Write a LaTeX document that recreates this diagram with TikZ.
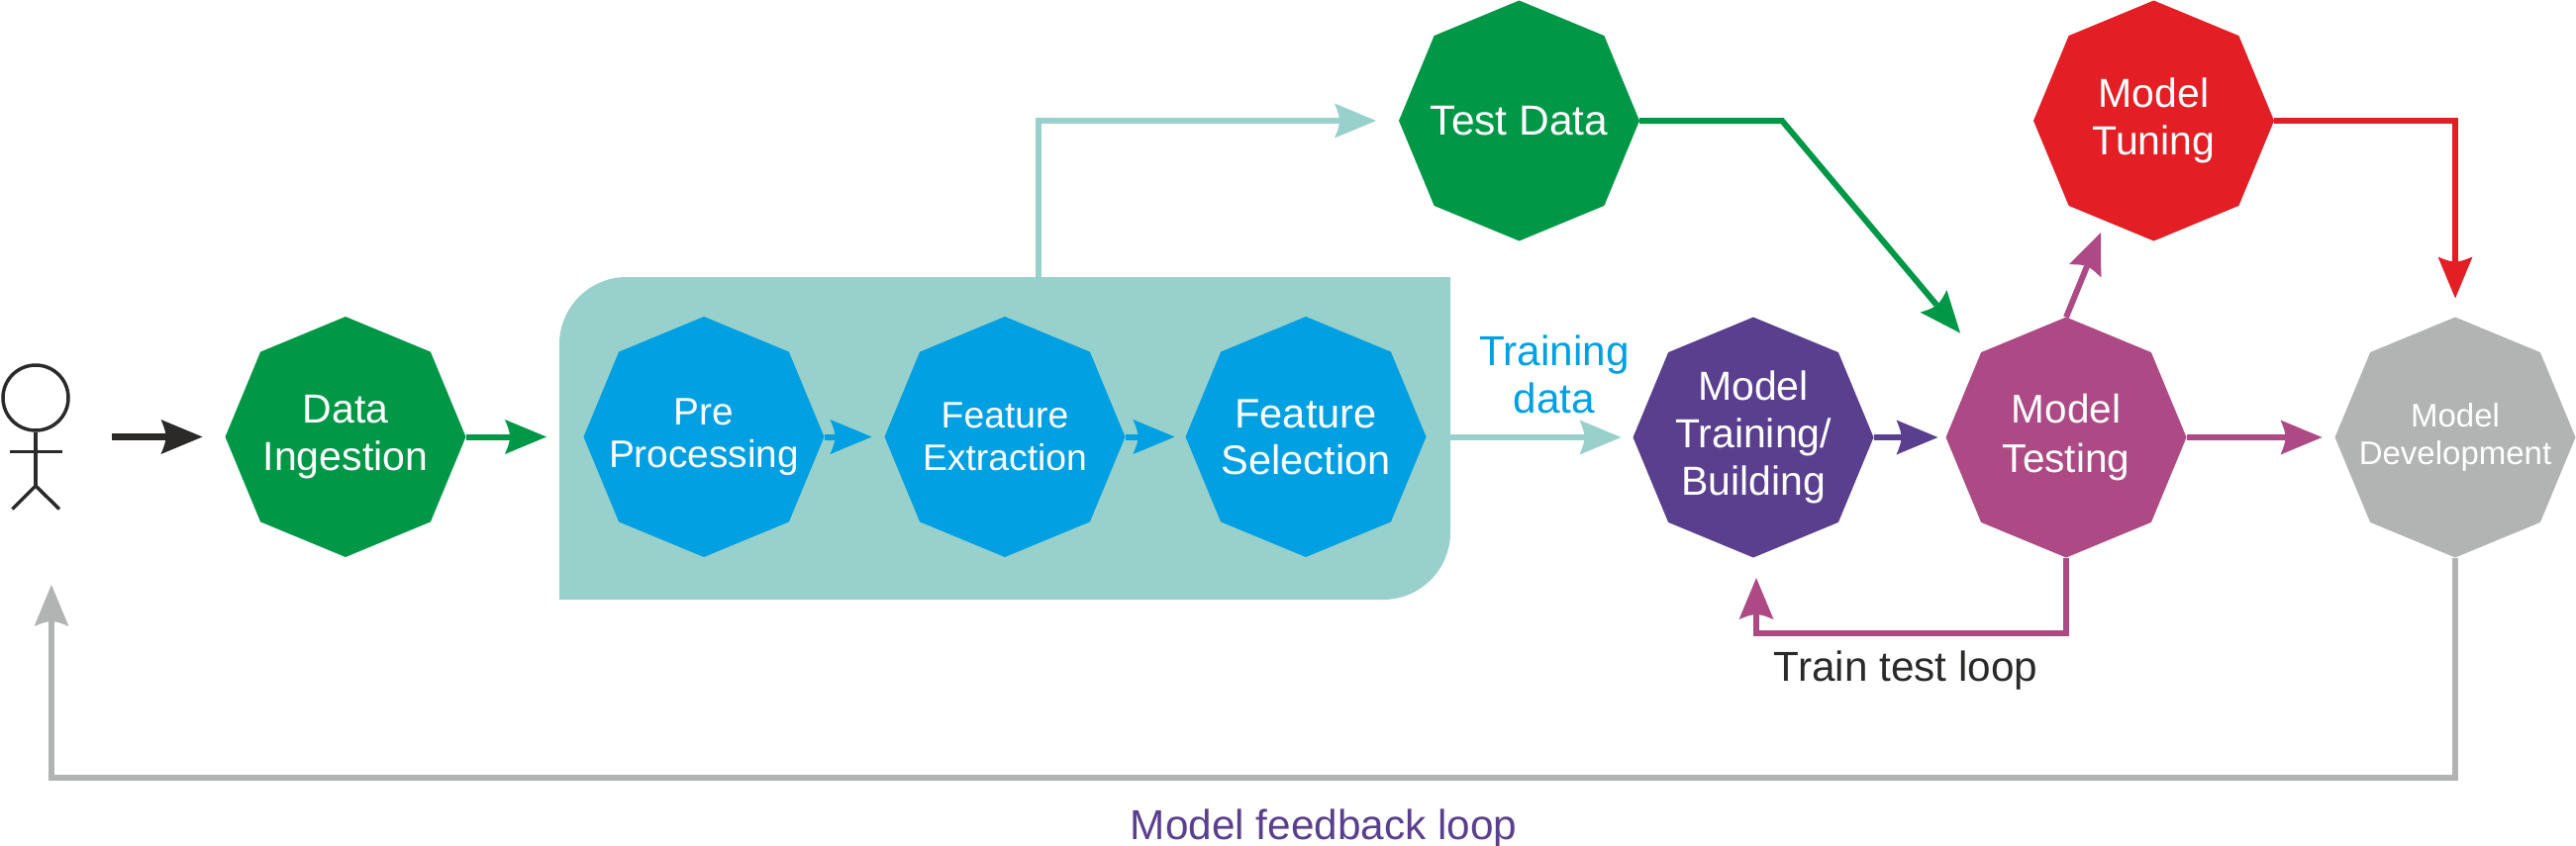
\documentclass[tikz,border=0pt]{standalone}
\usepackage{fontspec}
\setmainfont{Liberation Sans}
\usetikzlibrary{arrows.meta,calc}
\definecolor{cgreen}{HTML}{009846}
\definecolor{cblue}{HTML}{00A0E3}
\definecolor{cteal}{HTML}{98D0CB}
\definecolor{cpurple}{HTML}{5B3F8F}
\definecolor{cmag}{HTML}{AD4A85}
\definecolor{cred}{HTML}{E31E24}
\definecolor{cgray}{HTML}{B2B3B3}
\definecolor{cdark}{HTML}{2B2A29}
\pgfdeclarearrow{
  name=Hd,
  setup code={
    \pgfarrowssettipend{0pt}
    \pgfarrowssetbackend{-42pt}
    \pgfarrowssetlineend{-37pt}
    \pgfarrowshullpoint{0pt}{0pt}
    \pgfarrowshullpoint{-42pt}{17.5pt}
    \pgfarrowshullpoint{-42pt}{-17.5pt}
  },
  drawing code={
    \pgfpathmoveto{\pgfqpoint{0pt}{0pt}}
    \pgfpathlineto{\pgfqpoint{-42pt}{17.5pt}}
    \pgfpathcurveto{\pgfqpoint{-38pt}{8pt}}{\pgfqpoint{-37pt}{4pt}}{\pgfqpoint{-37pt}{0pt}}
    \pgfpathcurveto{\pgfqpoint{-37pt}{-4pt}}{\pgfqpoint{-38pt}{-8pt}}{\pgfqpoint{-42pt}{-17.5pt}}
    \pgfpathclose
    \pgfusepathqfill
  }
}
\newcommand{\fs}[2]{\fontsize{#1}{#2}\selectfont}
% octagon: colour, position, name, font, text
\newcommand{\octa}[5]{%
  \fill[#1] (#2) ++(121.5,0) -- ++(-35.6,85.9) -- ++(-85.9,35.6) -- ++(-85.9,-35.6) -- ++(-35.6,-85.9)
     -- ++(35.6,-85.9) -- ++(85.9,-35.6) -- ++(85.9,35.6) -- cycle;
  \node[oct,font=#4] (#3) at (#2) {#5};}
\tikzset{
  oct/.style={circle,minimum size=243pt,inner sep=0pt,outer sep=0pt,text=white,align=center},
  conn/.style={line width=6pt,-Hd},
  lbl/.style={inner sep=0pt,align=center,font=\fs{42.3}{48}},
  limb/.style={cdark,line width=3.5pt}
}
\begin{document}
\begin{tikzpicture}[x=1pt,y=-1pt]
\useasboundingbox (0,0) rectangle (2602,854);
% group panel
\node[minimum width=900pt,minimum height=326pt,inner sep=0pt,outer sep=0pt] (group) at (1015,443) {};
\fill[cteal] (group.south west) [rounded corners=68pt] -- (group.north west) [sharp corners] -- (group.north east) [rounded corners=68pt] -- (group.south east) [sharp corners] -- cycle;
% octagons
\octa{cgreen}{349,441.5}{ingest}{\fs{41}{48.6}}{Data\\Ingestion}
\octa{cblue}{711,441.5}{pre}{\fs{38.8}{43.5}}{Pre\\Processing}
\octa{cblue}{1015,441.5}{extract}{\fs{37.3}{43.6}}{Feature\\Extraction}
\octa{cblue}{1319,441.5}{select}{\fs{41.6}{47}}{Feature\\Selection}
\octa{cgreen}{1534.5,122}{test}{\fs{42.5}{50}}{Test Data}
\octa{cpurple}{1771,442}{train}{\fs{41}{48}}{Model\\Training/\\Building}
\octa{cmag}{2087,442}{testing}{\fs{40.5}{49.5}}{Model\\Testing}
\octa{cred}{2175.5,122}{tuning}{\fs{41}{48}}{Model\\Tuning}
\octa{cgray}{2480,442}{dev}{\fs{33}{38}\color{white!92!cgray}}{Model\\Development}
% actor
\node[circle,draw=cdark,line width=3.5pt,minimum size=66pt,inner sep=0pt] (head) at (36,402) {};
\coordinate (hip) at (36,491);
\coordinate (armL) at (10,456.5);
\coordinate (armR) at (63,456.5);
\coordinate (footL) at (12.5,514.5);
\coordinate (footR) at (60,514.5);
\draw[limb] (head.south) -- (hip);
\draw[limb] (armL) -- (armR);
\draw[limb] (footL) -- (hip) -- (footR);
% free ends
\coordinate (userOut) at (113,441.5);
\coordinate (userIn) at (52,591);
\coordinate (toTesting) at (1980,336.6);
\coordinate (toTuning) at (2122,235);
\coordinate (groupTop) at (1049,280);
% connectors
\draw[conn,cdark,line width=6.5pt,shorten >=23pt] (userOut) -- (ingest.west);
\draw[conn,cgreen,shorten >=13pt] (ingest.east) -- (ingest.east -| group.west);
\draw[conn,cblue,shorten >=13pt] (pre.east) -- (extract.west);
\draw[conn,cblue,shorten >=11pt] (extract.east) -- (select.west);
\draw[conn,cteal,shorten >=12pt] (group.east |- train.west) -- (train.west);
\draw[conn,cteal,line width=6.5pt,shorten >=23pt] (groupTop) |- (test.west);
\draw[conn,cgreen] (test.east) -- (1800,122) -- (toTesting);
\draw[conn,cpurple,shorten >=8pt] (train.east) -- (testing.west);
\draw[conn,cmag,shorten >=13pt] (testing.east) -- (dev.west);
\draw[conn,cmag] (testing.north) -- (toTuning);
\draw[conn,cred,shorten >=19pt] (tuning.east) -| (dev.north);
\draw[conn,cmag,shorten >=20pt] (testing.south) -- (2087,640.4) -| (1774,564);
\draw[conn,cgray] (dev.south) -- (2480,786) -| (userIn);
% labels
\node[lbl,text=cblue] (tdata) at (1570,378) {Training\\data};
\node[lbl,text=cdark] (ttl) at (1925,677.5) {Train test loop};
\node[lbl,text=cpurple] (mfl) at (1337,837.5) {Model feedback loop};
\end{tikzpicture}
\end{document}
